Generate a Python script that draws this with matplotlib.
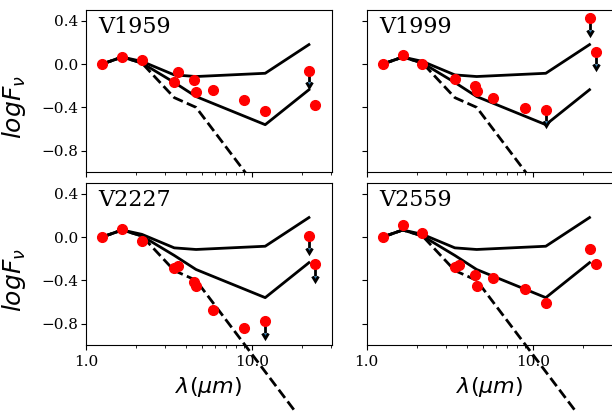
import numpy as np
import matplotlib
matplotlib.use("Agg")
import matplotlib.pyplot as plt
from matplotlib.ticker import FormatStrFormatter, NullFormatter

plt.rcParams['font.family'] = 'serif'

# model SEDs (normalised at J)
wl_model = [1.25, 1.65, 2.17, 3.4, 4.6, 12.0, 22.0]
model_hi = [0.0, 0.065, 0.025, -0.10, -0.115, -0.085, 0.18]
model_lo = [0.0, 0.065, 0.01, -0.17, -0.30, -0.56, -0.237]
model_photo = [0.0, 0.065, 0.01, -0.31, -0.40, -1.245, -1.78]

# observed photometry
wl_obs = np.array([1.25, 1.65, 2.17, 3.4, 3.6, 4.5, 4.6, 5.8, 9.0, 12.0, 22.0, 24.0])
stars = ['V1959', 'V1999', 'V2227', 'V2559']
flux = {
    'V1959': [0.0, 0.07, 0.034, -0.17, -0.077, -0.145, -0.255, -0.237, -0.33, -0.43, -0.06, -0.375],
    'V1999': [0.0, 0.08, 0.0, -0.135, np.nan, -0.20, -0.25, -0.31, -0.405, -0.42, 0.425, 0.108],
    'V2227': [0.0, 0.07, -0.034, -0.29, -0.27, -0.42, -0.457, -0.67, -0.84, -0.78, 0.012, -0.25],
    'V2559': [0.0, 0.114, 0.04, -0.273, -0.258, -0.35, -0.457, -0.38, -0.48, -0.605, -0.11, -0.25],
}
# upper limits (12, 22, 24 micron)
uplim = {
    'V1959': [0, 0, 0, 0, 0, 0, 0, 0, 0, 0, 1, 0],
    'V1999': [0, 0, 0, 0, 0, 0, 0, 0, 0, 1, 1, 1],
    'V2227': [0, 0, 0, 0, 0, 0, 0, 0, 0, 1, 1, 1],
    'V2559': [0, 0, 0, 0, 0, 0, 0, 0, 0, 0, 0, 0],
}

fig = plt.figure(figsize=(6.12, 4.12), dpi=100)
pos = [[0.1405, 0.5818, 0.402, 0.394], [0.599, 0.5818, 0.402, 0.394],
       [0.1405, 0.162, 0.402, 0.394], [0.599, 0.162, 0.402, 0.394]]

axes = []
for i, name in enumerate(stars):
    if i == 0:
        ax = fig.add_axes(pos[i])
    else:
        ax = fig.add_axes(pos[i], sharex=axes[0], sharey=axes[0])
    axes.append(ax)
    bottom = i >= 2
    y = np.array(flux[name])
    lim = np.array(uplim[name], dtype=bool)

    ax.plot(wl_model, model_hi, 'k-', lw=2, clip_on=not bottom)
    ax.plot(wl_model, model_lo, 'k-', lw=2, clip_on=not bottom)
    ax.plot(wl_model, model_photo, 'k--', lw=2, clip_on=not bottom)
    if lim.any():
        ax.errorbar(wl_obs[lim], y[lim], yerr=0.11, uplims=True, fmt='none',
                    ecolor='k', elinewidth=2, capsize=2.5, capthick=2, zorder=2.5)
    ax.plot(wl_obs, y, 'o', color='red', ms=7, zorder=3)

    ax.text(0.05, 0.86, name, transform=ax.transAxes, fontsize=16)

    ax.set_xscale('log')
    ax.set_xlim(1.0, 30.3)
    ax.set_ylim(-1.0, 0.5)
    ax.set_yticks([-0.8, -0.4, 0.0, 0.4])
    ax.xaxis.set_major_formatter(FormatStrFormatter('%.1f'))
    ax.xaxis.set_minor_formatter(NullFormatter())
    ax.tick_params(labelsize=11)
    ax.tick_params(axis='y', pad=2)
    if not bottom:
        ax.tick_params(axis='x', labelbottom=False)
    else:
        ax.set_xlabel(r'$\lambda(\mu m)$', fontsize=16)
    if i % 2 == 1:
        ax.tick_params(axis='y', labelleft=False)
    else:
        ax.set_ylabel(r'$logF_\nu$', fontsize=18)
        ax.yaxis.set_label_coords(-0.235, 0.40)

fig.savefig('out.png', dpi=100)
